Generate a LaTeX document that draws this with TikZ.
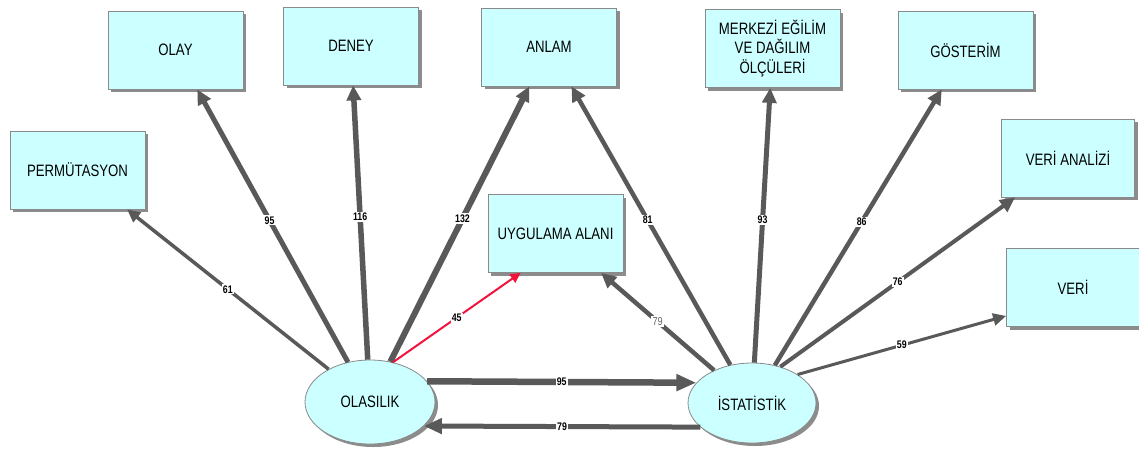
\documentclass[tikz,border=0pt]{standalone}
\usepackage{fontspec}
\setmainfont{Liberation Sans}
\newfontfamily\boxfont[FakeStretch=0.8]{Liberation Sans}
\newfontfamily\wtfont[FakeStretch=0.8]{Liberation Sans Bold}
\usetikzlibrary{arrows.meta,shapes.geometric,shadows,calc}
\definecolor{boxfill}{HTML}{CCFFFF}
\definecolor{boxline}{HTML}{8A8A8A}
\definecolor{edgecol}{HTML}{595959}
\definecolor{hotedge}{HTML}{F0143C}
\tikzset{
  conceptbox/.style={draw=boxline, line width=0.8pt, fill=boxfill,
    minimum width=135pt, minimum height=78pt, inner sep=2pt,
    align=center, font=\boxfont\fontsize{16.5}{19.5}\selectfont,
    drop shadow={shadow xshift=3pt, shadow yshift=-3pt, fill=black!45, opacity=1}},
  concepthub/.style={conceptbox, ellipse, minimum width=130pt, minimum height=84pt, inner sep=0pt},
  link/.style={draw=edgecol, line width=#1, -{Triangle[length=15pt,width=14pt]}},
  weight/.style={fill=white, inner sep=1.2pt, text=black, font=\wtfont\fontsize{11}{11}\selectfont},
  softweight/.style={fill=white, inner sep=1.2pt, text=black!60, font=\boxfont\fontsize{11.5}{11.5}\selectfont},
}
\begin{document}
\begin{tikzpicture}[x=1pt,y=-1pt]
\useasboundingbox (0,0) rectangle (1139,448);

% topic boxes
\node[conceptbox] (perm)  at (77.5,170)  {PERMÜTASYON};
\node[conceptbox] (olay)  at (175.5,50)  {OLAY};
\node[conceptbox] (deney) at (351,46)    {DENEY};
\node[conceptbox] (anlam) at (549,47)    {ANLAM};
\node[conceptbox] (uyg)   at (555.5,233.5) {UYGULAMA ALANI};
\node[conceptbox] (merk)  at (772.5,48.5) {MERKEZİ EĞİLİM\\VE DAĞILIM\\ÖLÇÜLERİ};
\node[conceptbox] (gost)  at (965.5,50)  {GÖSTERİM};
\node[conceptbox, minimum width=133pt] (vana) at (1068,158) {VERİ ANALİZİ};
\node[conceptbox, minimum width=133pt] (veri) at (1073,287.5) {VERİ};

% the two hubs
\node[concepthub] (olas) at (370,402) {OLASILIK};
\node[concepthub, minimum width=128pt, minimum height=80pt] (ist) at (752,403) {İSTATİSTİK};

% links leaving OLASILIK
\draw[link=3.5pt, -{Triangle[length=13pt,width=12pt]}] (olas) -- (perm) node[weight, midway] {61};
\draw[link=5pt] (olas) -- (olay) node[weight, pos=0.52] {95};
\draw[link=5.5pt] (olas) -- (deney) node[weight, pos=0.52] {116};
\draw[link=6pt] (olas) -- (anlam) node[weight, pos=0.52] {132};
\draw[draw=hotedge, line width=2pt, -{Triangle[length=10pt,width=10pt]}, hotedge]
  (olas.60) -- ([xshift=-35pt]uyg.south) node[weight, midway] {45};
\draw[link=6.5pt, -{Triangle[length=20pt,width=16pt]}] (olas.20) -- (ist.160) node[weight, midway] {95};

% links leaving İSTATİSTİK
\draw[link=5pt, -{Triangle[length=18pt,width=15pt]}] (ist.205) -- (olas.-24) node[weight, midway] {79};
\draw[link=4.5pt] (ist) -- (uyg) node[softweight, midway] {79};
\draw[link=4.5pt] (ist) -- (anlam) node[weight, pos=0.52] {81};
\draw[link=5pt] (ist) -- (merk) node[weight, pos=0.52] {93};
\draw[link=4.5pt] (ist) -- (gost) node[weight, pos=0.52] {86};
\draw[link=4pt] (ist.52) -- ([xshift=14pt]vana.south west) node[weight, midway] {76};
\draw[link=3pt, -{Triangle[length=13pt,width=12pt]}] (ist.32) -- ([yshift=11pt]veri.south west) node[weight, midway] {59};
\end{tikzpicture}
\end{document}
